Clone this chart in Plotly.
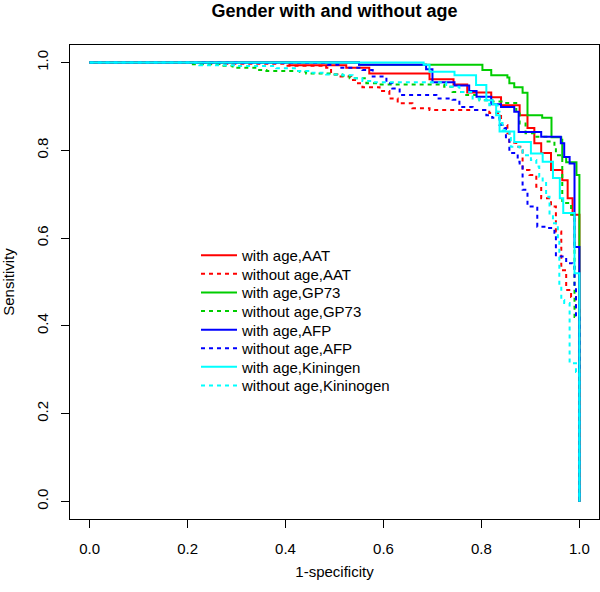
import plotly.graph_objects as go

# ---- data (x = 1-specificity axis value, y = sensitivity), step points ----
aat_with_x = [0, 0.408, 0.524, 0.571, 0.694, 0.743, 0.771, 0.820, 0.840, 0.878, 0.894, 0.908, 0.922, 0.942, 0.965, 0.976, 0.986, 1.0, 1.0]
aat_with_y = [1.0, 0.994, 0.988, 0.975, 0.962, 0.950, 0.932, 0.921, 0.903, 0.880, 0.851, 0.816, 0.794, 0.755, 0.732, 0.691, 0.653, 0.641, 0.0]

aat_without_x = [0, 0.25, 0.40, 0.483, 0.493, 0.506, 0.534, 0.544, 0.557, 0.592, 0.612, 0.629, 0.659, 0.694, 0.816, 0.840, 0.853, 0.857, 0.871, 0.884, 0.898, 0.912, 0.922, 0.942, 0.952, 0.963, 0.973, 0.983, 0.993, 1.0]
aat_without_y = [1.0, 0.997, 0.993, 0.988, 0.973, 0.968, 0.960, 0.953, 0.944, 0.935, 0.918, 0.907, 0.896, 0.892, 0.885, 0.858, 0.839, 0.817, 0.808, 0.755, 0.744, 0.717, 0.691, 0.672, 0.615, 0.527, 0.482, 0.466, 0.44, 0.0]

gp73_with_x = [0, 0.55, 0.802, 0.820, 0.853, 0.857, 0.867, 0.884, 0.894, 0.924, 0.943, 0.963, 0.965, 0.973, 0.994, 1.0]
gp73_with_y = [1.0, 0.995, 0.983, 0.971, 0.966, 0.953, 0.944, 0.931, 0.880, 0.874, 0.830, 0.824, 0.785, 0.773, 0.744, 0.0]

gp73_without_x = [0, 0.204, 0.265, 0.292, 0.343, 0.361, 0.429, 0.442, 0.496, 0.516, 0.531, 0.565, 0.592, 0.724, 0.741, 0.769, 0.796, 0.822, 0.847, 0.871, 0.878, 0.890, 0.908, 0.935, 0.949, 0.952, 0.965, 0.983, 0.990, 1.0]
gp73_without_y = [1.0, 0.996, 0.993, 0.988, 0.983, 0.981, 0.979, 0.975, 0.973, 0.970, 0.964, 0.953, 0.950, 0.945, 0.933, 0.926, 0.914, 0.911, 0.908, 0.884, 0.861, 0.839, 0.831, 0.820, 0.805, 0.789, 0.680, 0.653, 0.42, 0.0]

afp_with_x = [0, 0.55, 0.687, 0.70, 0.745, 0.775, 0.79, 0.82, 0.84, 0.867, 0.876, 0.922, 0.962, 0.969, 0.980, 0.990, 1.0]
afp_with_y = [1.0, 0.995, 0.985, 0.955, 0.948, 0.935, 0.922, 0.905, 0.899, 0.888, 0.842, 0.831, 0.816, 0.785, 0.770, 0.580, 0.0]

afp_without_x = [0, 0.30, 0.486, 0.510, 0.557, 0.578, 0.606, 0.618, 0.633, 0.708, 0.741, 0.755, 0.782, 0.810, 0.822, 0.837, 0.847, 0.850, 0.857, 0.874, 0.878, 0.884, 0.894, 0.912, 0.914, 0.932, 0.949, 0.952, 0.973, 0.986, 0.990, 0.993, 1.0]
afp_without_y = [1.0, 0.999, 0.995, 0.988, 0.983, 0.968, 0.953, 0.941, 0.926, 0.918, 0.915, 0.899, 0.892, 0.880, 0.874, 0.858, 0.851, 0.824, 0.794, 0.774, 0.763, 0.710, 0.672, 0.669, 0.626, 0.623, 0.612, 0.558, 0.543, 0.539, 0.489, 0.418, 0.0]

kin_with_x = [0, 0.682, 0.694, 0.745, 0.789, 0.810, 0.823, 0.830, 0.837, 0.867, 0.901, 0.925, 0.946, 0.960, 0.967, 0.990, 1.0]
kin_with_y = [1.0, 0.995, 0.979, 0.971, 0.949, 0.914, 0.905, 0.880, 0.843, 0.819, 0.793, 0.774, 0.737, 0.691, 0.657, 0.520, 0.0]

kin_without_x = [0, 0.224, 0.30, 0.381, 0.422, 0.449, 0.483, 0.516, 0.537, 0.557, 0.578, 0.728, 0.755, 0.782, 0.796, 0.816, 0.833, 0.837, 0.843, 0.857, 0.860, 0.878, 0.884, 0.901, 0.912, 0.918, 0.925, 0.932, 0.939, 0.946, 0.956, 0.959, 0.963, 0.969, 0.980, 0.993, 1.0]
kin_without_y = [1.0, 0.994, 0.992, 0.987, 0.981, 0.977, 0.973, 0.971, 0.964, 0.958, 0.955, 0.945, 0.933, 0.918, 0.914, 0.903, 0.888, 0.862, 0.846, 0.828, 0.808, 0.801, 0.789, 0.778, 0.763, 0.740, 0.728, 0.694, 0.653, 0.634, 0.596, 0.489, 0.459, 0.452, 0.315, 0.295, 0.0]

series_names = ["with age,AAT", "without age,AAT", "with age,GP73", "without age,GP73",
                "with age,AFP", "without age,AFP", "with age,Kiningen", "without age,Kininogen"]
series_x = [aat_with_x, aat_without_x, gp73_with_x, gp73_without_x,
            afp_with_x, afp_without_x, kin_with_x, kin_without_x]
series_y = [aat_with_y, aat_without_y, gp73_with_y, gp73_without_y,
            afp_with_y, afp_without_y, kin_with_y, kin_without_y]
colors = ["#FF0000", "#FF0000", "#00CD00", "#00CD00", "#0000FF", "#0000FF", "#00FFFF", "#00FFFF"]
dashes = ["solid", "4px,4px"] * 4

tick_vals = [0, 0.2, 0.4, 0.6, 0.8, 1.0]
tick_text = ["0.0", "0.2", "0.4", "0.6", "0.8", "1.0"]

FONT = "Liberation Sans, Arial, sans-serif"
W, H = 600, 592
ML, MR, MT, MB = 70, 1, 45, 73
plot_h = H - MT - MB

fig = go.Figure()
legend_layouts = {}
for i, (name, xs, ys, c, d) in enumerate(zip(series_names, series_x, series_y, colors, dashes)):
    lname = "legend" if i == 0 else f"legend{i+1}"
    fig.add_trace(go.Scatter(x=xs, y=ys, mode="lines", name=name, showlegend=True,
                             line=dict(color=c, width=2, dash=d, shape="hv"),
                             legend=lname, hoverinfo="skip"))
    row_py = 255.5 + 18.6 * i
    legend_layouts[lname] = dict(
        x=(196 - ML) / (W - ML - MR), y=(H - MB - row_py) / plot_h,
        xanchor="left", yanchor="middle", bgcolor="rgba(0,0,0,0)",
        borderwidth=0, font=dict(family=FONT, size=15, color="black"),
        itemwidth=36, tracegroupgap=0, visible=True)

axis_common = dict(range=[-0.04, 1.04], showgrid=False, zeroline=False,
                   showline=True, mirror=True, linecolor="black", linewidth=1,
                   ticks="outside", ticklen=8, tickcolor="black", tickwidth=1,
                   tickvals=tick_vals, ticktext=tick_text,
                   tickfont=dict(family=FONT, size=15, color="black"))

fig.update_layout(
    width=W, height=H,
    showlegend=True,
    margin=dict(l=ML, r=MR, t=MT, b=MB),
    paper_bgcolor="white", plot_bgcolor="white",
    title=dict(text="<b>Gender with and without age</b>", x=0.5, xref="paper",
               xanchor="center", y=1 - 11 / H, yref="container", yanchor="middle",
               font=dict(family=FONT, size=18, color="black")),
    xaxis=dict(axis_common, title=dict(text="1-specificity", standoff=10,
                                       font=dict(family=FONT, size=15, color="black")),
               ticklabelstandoff=8),
    yaxis=dict(axis_common, tickangle=-90,
               title=dict(text="Sensitivity", standoff=16,
                          font=dict(family=FONT, size=15, color="black")),
               ticklabelstandoff=7),
    **legend_layouts,
)

fig.write_html("out.html", config={"displayModeBar": False},
               post_script="document.body.style.margin='0';document.body.style.padding='0';")
